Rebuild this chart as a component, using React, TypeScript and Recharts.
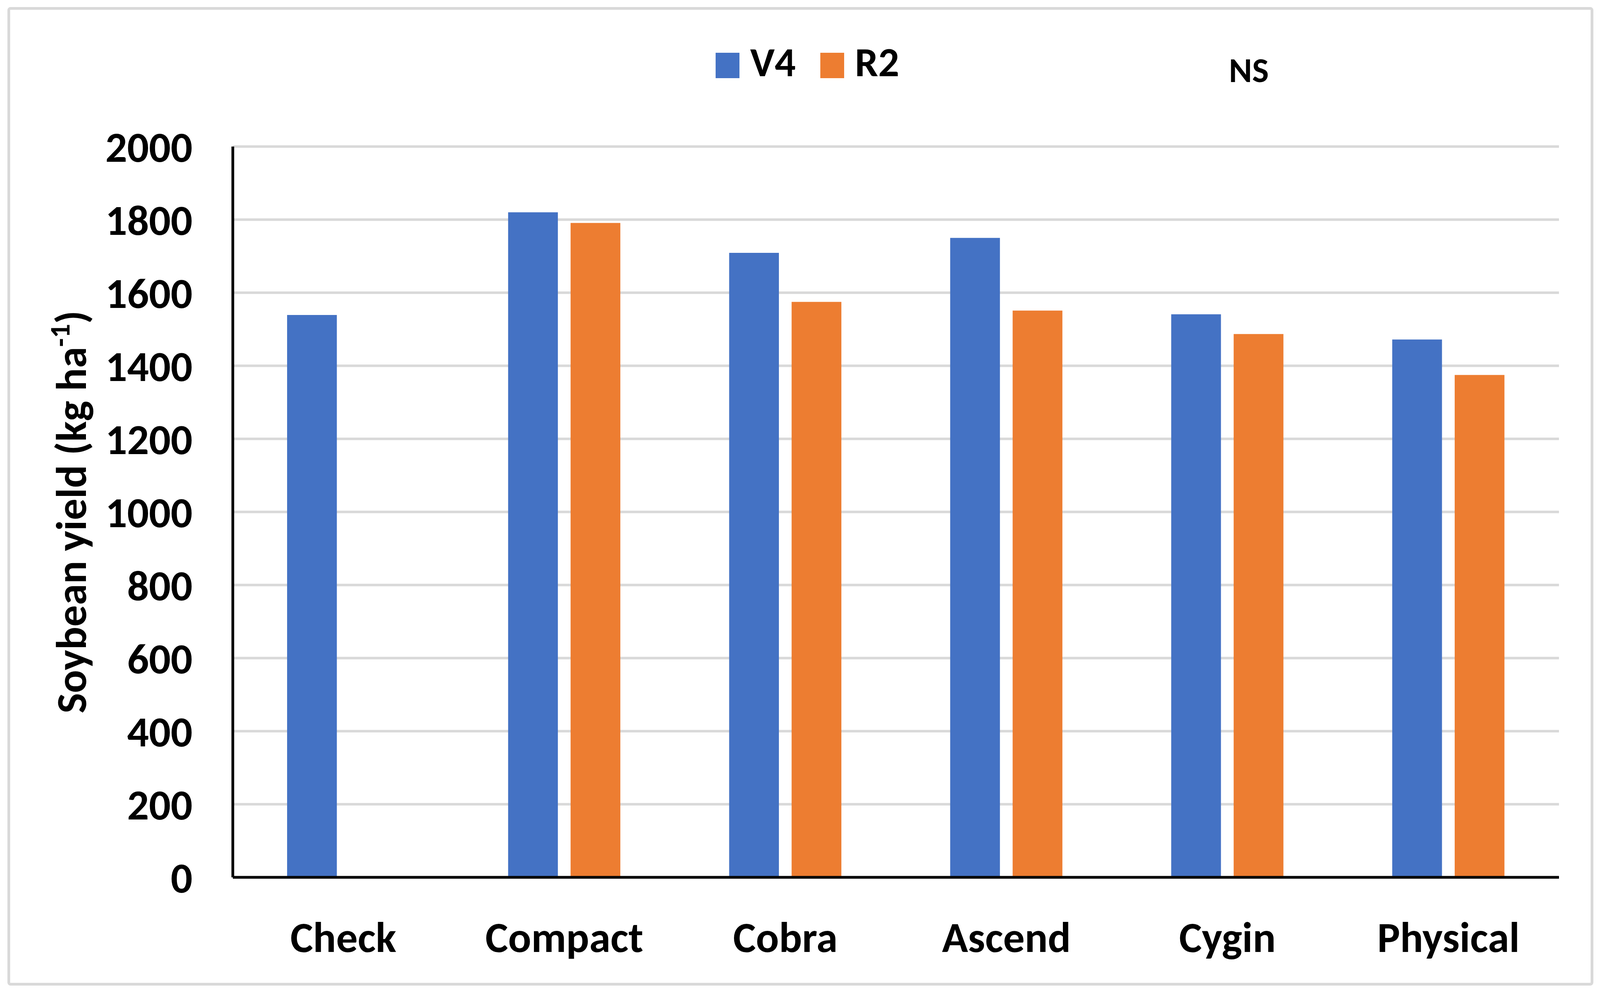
import React from 'react';
import { BarChart, Bar, XAxis, YAxis, CartesianGrid, Legend, Label } from 'recharts';

const categories = ['Check', 'Compact', 'Cobra', 'Ascend', 'Cygin', 'Physical'];
const v4Values: (number | null)[] = [1539, 1820, 1709, 1750, 1541, 1472];
const r2Values: (number | null)[] = [null, 1791, 1575, 1551, 1487, 1375];
const seriesNames = ['V4', 'R2'];
const seriesColors = ['#4472C4', '#ED7D31'];
const yTicks = [0, 200, 400, 600, 800, 1000, 1200, 1400, 1600, 1800, 2000];
const yTitleMain = 'Soybean yield (kg ha';
const yTitleSup = '-1';
const yTitleEnd = ')';
const annotationText = 'NS';

const data = categories.map((c, i) => ({ category: c, V4: v4Values[i], R2: r2Values[i] }));

const FONT = "Carlito, Lato, 'Open Sans', sans-serif";
const REF_W = 4406;
const H = 2541;

export default function App() {
  const W =
    typeof window !== 'undefined' && window.innerWidth > 0 ? Math.min(window.innerWidth, REF_W) : 4096;
  const sx = W / REF_W;
  const X = (v: number) => v * sx;

  const tickStyle = { fill: '#000', fontSize: 110, fontWeight: 700, fontFamily: FONT };

  const YTitle = (props: any) => {
    const vb = props.viewBox || { x: 1, y: 375, width: X(640), height: 1870 };
    const cx = vb.x + X(236);
    const cy = vb.y + vb.height / 2;
    return (
      <text
        x={cx}
        y={cy}
        transform={`rotate(-90 ${cx} ${cy})`}
        textAnchor="middle"
        fontFamily={FONT}
        fontWeight={700}
        fontSize={110}
        fill="#000"
      >
        {yTitleMain}
        <tspan dy={-42} fontSize={72}>{yTitleSup}</tspan>
        <tspan dy={42}>{yTitleEnd}</tspan>
      </text>
    );
  };

  const LegendContent = (props: any) => {
    const payload = [...(props.payload || [])].sort(
      (a: any, b: any) => seriesNames.indexOf(a.value) - seriesNames.indexOf(b.value)
    );
    return (
      <div style={{ display: 'flex', alignItems: 'flex-start', fontFamily: FONT, fontWeight: 700 }}>
        {payload.map((p: any, i: number) => (
          <div key={i} style={{ display: 'flex', alignItems: 'flex-start', marginRight: i === 0 ? X(68) : 0 }}>
            <span style={{ display: 'inline-block', width: X(65), height: 65, marginTop: 29, background: p.color }} />
            <span style={{ fontSize: 106, lineHeight: '106px', marginLeft: X(30), color: '#000' }}>{p.value}</span>
          </div>
        ))}
      </div>
    );
  };

  return (
    <div style={{ position: 'absolute', left: 0, top: 0, width: W, height: H, background: '#fff', overflow: 'hidden' }}>
      <div
        style={{
          position: 'absolute',
          left: X(20),
          top: 18,
          width: X(4368),
          height: 2504,
          border: '7px solid #D9D9D9',
          borderRadius: 8,
          boxSizing: 'border-box',
        }}
      />
      <div style={{ position: 'absolute', left: 0, top: 0 }}>
        <BarChart
          width={W}
          height={H}
          data={data}
          margin={{ top: 375, right: X(113), left: 1, bottom: 146 }}
          barGap={X(35)}
        >
          <CartesianGrid vertical={false} stroke="#D9D9D9" strokeWidth={6.5} />
          <XAxis
            dataKey="category"
            interval={0}
            tickLine={false}
            tickSize={0}
            tickMargin={113}
            height={150}
            axisLine={{ stroke: '#000', strokeWidth: 7 }}
            tick={tickStyle}
          />
          <YAxis
            domain={[0, 2000]}
            ticks={yTicks}
            interval={0}
            tickLine={false}
            tickSize={0}
            tickMargin={X(111)}
            width={X(640)}
            axisLine={{ stroke: '#000', strokeWidth: 7 }}
            tick={tickStyle}
          >
            <Label content={<YTitle />} />
          </YAxis>
          <Legend
            layout="horizontal"
            verticalAlign="middle"
            align="center"
            content={<LegendContent />}
            wrapperStyle={{ left: X(1971), top: 106, width: 1000, height: 130 }}
          />
          <Bar dataKey="V4" name={seriesNames[0]} fill={seriesColors[0]} barSize={X(137)} isAnimationActive={false} />
          <Bar dataKey="R2" name={seriesNames[1]} fill={seriesColors[1]} barSize={X(137)} isAnimationActive={false} />
        </BarChart>
      </div>
      <div
        style={{
          position: 'absolute',
          left: X(3439) - 200,
          top: 134,
          width: 400,
          textAlign: 'center',
          fontFamily: FONT,
          fontWeight: 700,
          fontSize: 90,
          lineHeight: '90px',
          color: '#000',
        }}
      >
        {annotationText}
      </div>
    </div>
  );
}
